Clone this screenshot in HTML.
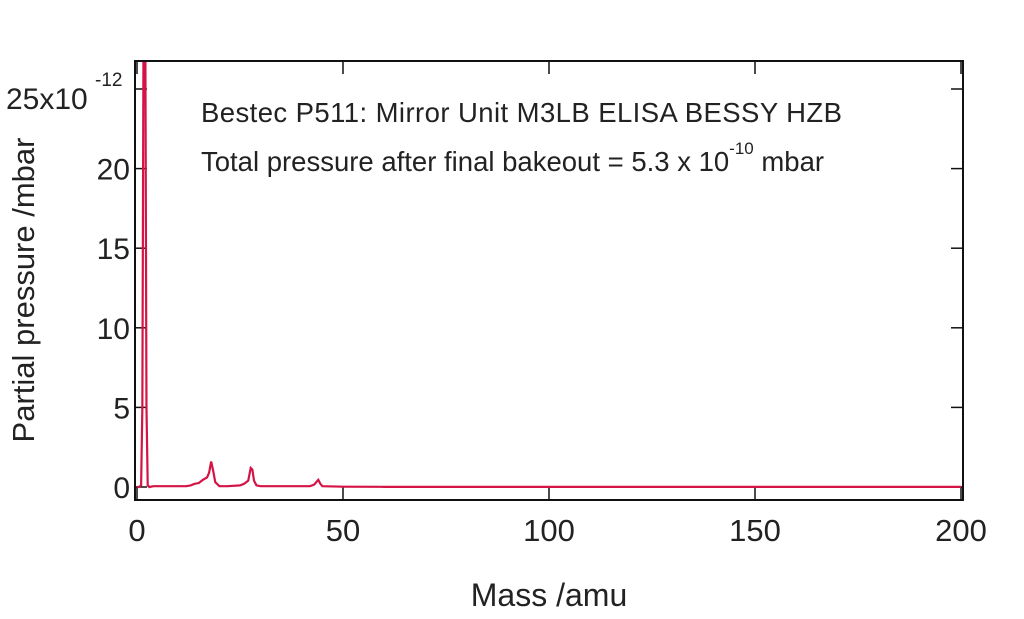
<!DOCTYPE html>
<html><head><meta charset="utf-8"><style>
body{margin:0;background:#fff;}
svg text{font-family:"Liberation Sans",sans-serif;fill:#222;}
</style></head><body>
<svg width="1024" height="614">
<g id="axes"></g>
<rect x="135" y="61" width="828" height="439" fill="none" stroke="#111" stroke-width="2"/>
<text x="201" y="122" font-size="27.5" textLength="641">Bestec P511: Mirror Unit M3LB ELISA BESSY HZB</text>
<text x="201" y="171" font-size="27.5">Total pressure after final bakeout = 5.3 x 10<tspan dy="-17" font-size="17">-10</tspan><tspan dy="17"> mbar</tspan></text>
<text x="6" y="109" font-size="30">25x10</text>
<text x="95" y="86" font-size="19">-12</text>
<text transform="translate(34,290) rotate(-90)" text-anchor="middle" font-size="31">Partial pressure /mbar</text>
<text x="549" y="606" text-anchor="middle" font-size="32">Mass /amu</text>
<g id="series"></g>
</svg>
<script>
const masses=[0,0.5,1,1.3,1.6,2,2.3,2.6,3,4,10,12,13,14,15,16,17,17.5,18,18.5,19,20,22,25,26,27,27.6,28,28.4,29,30,35,40,42,43,44,44.5,45,50,60,100,150,200];
const values=[0,0,0.1,5,30,30,5,0.1,0,0.05,0.05,0.05,0.1,0.2,0.25,0.45,0.6,0.9,1.6,1.0,0.3,0.05,0.05,0.1,0.2,0.4,1.2,1.1,0.4,0.1,0.05,0.05,0.05,0.05,0.15,0.45,0.2,0.05,0.02,0.01,0.01,0.01,0.01];
const xTicks=[0,50,100,150,200];
const yTicks=[0,5,10,15,20];
const NS="http://www.w3.org/2000/svg";
const X=m=>137+m*4.12;
const Y=v=>487-v*15.92;
const ax=document.getElementById('axes');
for(const t of xTicks){
 const l=document.createElementNS(NS,'line');
 l.setAttribute('x1',X(t));l.setAttribute('x2',X(t));l.setAttribute('y1',500);l.setAttribute('y2',487);l.setAttribute('stroke','#111');l.setAttribute('stroke-width','1.5');
 
 
 ax.appendChild(l);
 const l2=l.cloneNode();l2.setAttribute('y1',61);l2.setAttribute('y2',74);
 
 ax.appendChild(l2);
 const tx=document.createElementNS(NS,'text');
 tx.setAttribute('x',X(t));tx.setAttribute('y',541);tx.setAttribute('text-anchor','middle');tx.setAttribute('font-size','31');
 tx.textContent=t;
 
 
 ax.appendChild(tx);
}
for(const t of yTicks.concat([25])){
 const l=document.createElementNS(NS,'line');
 l.setAttribute('x1',135);l.setAttribute('x2',147);l.setAttribute('y1',Y(t));l.setAttribute('y2',Y(t));l.setAttribute('stroke','#111');l.setAttribute('stroke-width','1.5');
 
 
 ax.appendChild(l);
 const l2=l.cloneNode();l2.setAttribute('x1',951);l2.setAttribute('x2',963);
 
 ax.appendChild(l2);
}
for(const t of yTicks){
 const tx=document.createElementNS(NS,'text');
 tx.setAttribute('x',130);tx.setAttribute('y',Y(t)+11);tx.setAttribute('text-anchor','end');tx.setAttribute('font-size','30');
 tx.textContent=t;
 
 
 ax.appendChild(tx);
}
const cp=document.createElementNS(NS,'clipPath');cp.id='clip';
const cr=document.createElementNS(NS,'rect');cr.setAttribute('x',136);cr.setAttribute('y',62);cr.setAttribute('width',826);cr.setAttribute('height',437);
cp.appendChild(cr);document.querySelector('svg').appendChild(cp);
const p=document.createElementNS(NS,'polyline');
p.setAttribute('points',masses.map((m,i)=>X(m)+','+Y(values[i])).join(' '));
p.setAttribute('fill','none');p.setAttribute('stroke','#d41445');p.setAttribute('stroke-width','2.2');p.setAttribute('clip-path','url(#clip)');


document.getElementById('series').appendChild(p);
</script>
</body></html>
